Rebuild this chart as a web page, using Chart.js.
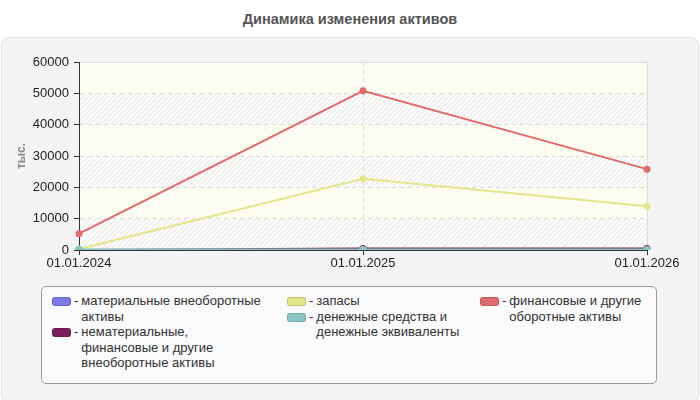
<!DOCTYPE html>
<html>
<head>
<meta charset="utf-8">
<script src="https://cdn.jsdelivr.net/npm/chart.js@4"></script>
<style>
  body { margin: 0; width: 700px; height: 400px; background: #fff; position: relative; overflow: hidden; font-family: Arial, "Liberation Sans", sans-serif; }
  #title { position: absolute; left: 0; top: 11px; width: 700px; text-align: center; font-weight: bold; font-size: 14.5px; color: #555; }
  #panel { position: absolute; left: 1px; top: 37px; width: 696px; height: 364px; background: #f4f4f4; border: 1px solid #e2e2e2; border-radius: 8px; }
  #chart { position: absolute; left: 0; top: 0; }
  #legend { position: absolute; left: 41px; top: 286px; width: 614px; height: 96px; background: #fafafa; border: 1px solid #9a9a9a; border-radius: 5px; font-family: Arial, "Liberation Sans", sans-serif; font-size: 13px; color: #333; }
  .col { position: absolute; top: 6px; }
  .item { display: flex; align-items: flex-start; line-height: 15.5px; }
  .sw { width: 17px; height: 7px; border-radius: 3px; margin-top: 4px; border: 1px solid rgba(0,0,0,0.15); flex: none; }
  .dash { margin: 0 3px 0 3px; flex: none; }
  .txt { width: 182px; }
</style>
</head>
<body>
<div id="title">Динамика изменения активов</div>
<div id="panel"></div>
<canvas id="chart" width="700" height="280"></canvas>
<div id="legend"></div>
<script>
// data
const dates = ['01.01.2024', '01.01.2025', '01.01.2026'];
const tangibleAssets = [0, 0, 0];
const intangibleAssets = [0, 450, 450];
const inventories = [300, 22700, 14000];
const cashAssets = [0, 0, 0];
const financialAssets = [5200, 50800, 25800];

const names = [
  'материальные внеоборотные активы',
  'нематериальные, финансовые и другие внеоборотные активы',
  'запасы',
  'денежные средства и денежные эквиваленты',
  'финансовые и другие оборотные активы'
];
const colors = ['#7b7be8', '#7a1f5a', '#e5e58a', '#88c6c6', '#e06b6b'];
const series = [tangibleAssets, intangibleAssets, inventories, cashAssets, financialAssets];
const drawOrder = [4, 3, 2, 0, 1];

// hatched band pattern
const pc = document.createElement('canvas');
pc.width = 5; pc.height = 5;
const p = pc.getContext('2d');
p.fillStyle = '#fbfbfa';
p.fillRect(0, 0, 5, 5);
p.strokeStyle = '#e4e4e4';
p.lineWidth = 1;
p.beginPath();
p.moveTo(0, 5); p.lineTo(5, 0);
p.moveTo(-1, 1); p.lineTo(1, -1);
p.moveTo(4, 6); p.lineTo(6, 4);
p.stroke();
const hatch = p.createPattern(pc, 'repeat');

const bandPlugin = {
  id: 'bands',
  beforeDraw(chart) {
    const { ctx, chartArea: a, scales: { y } } = chart;
    ctx.save();
    y.ticks.forEach((t, i) => {
      if (i === y.ticks.length - 1) return;
      const bot = y.getPixelForValue(t.value);
      const top = y.getPixelForValue(y.ticks[i + 1].value);
      ctx.fillStyle = i % 2 === 0 ? hatch : '#fcfcf1';
      ctx.fillRect(a.left, top, a.right - a.left, bot - top);
    });
    ctx.restore();
  }
};

const chart = new Chart(document.getElementById('chart'), {
  type: 'line',
  data: {
    labels: dates,
    datasets: series.map((d, i) => ({
      label: names[i],
      data: d,
      borderColor: colors[i],
      backgroundColor: colors[i],
      borderWidth: i === 3 ? 3 : 2,
      pointRadius: i === 3 ? 4 : 3.5,
      pointBorderWidth: 0,
      tension: 0,
      order: drawOrder[i]
    }))
  },
  options: {
    responsive: false,
    animation: false,
    layout: { padding: { top: 62, left: 0, right: 53, bottom: 0 } },
    plugins: { legend: { display: false }, tooltip: { enabled: false } },
    scales: {
      x: {
        offset: false,
        afterFit(s) { s.height = 30; },
        grid: { color: '#dcdcdc', tickColor: '#333', tickLength: 5 },
        border: { color: '#333', dash: c => c.index === dates.length - 1 ? [] : [4, 4] },
        ticks: { color: '#222', font: { size: 13, family: 'Arial' }, maxRotation: 0, padding: 1 }
      },
      y: {
        min: 0,
        max: 60000,
        afterFit(s) { s.width = 79; },
        grid: { color: '#dcdcdc', tickColor: '#333', tickLength: 5 },
        border: { color: '#333', dash: c => c.tick && c.tick.value === 60000 ? [] : [4, 4] },
        ticks: { stepSize: 10000, color: '#222', font: { size: 13, family: 'Arial' }, padding: 5, callback: v => String(v) },
        title: { display: true, text: 'тыс.', color: '#888', font: { size: 12, weight: 'bold', family: 'Arial' }, padding: { top: 14, bottom: 0 } }
      }
    }
  },
  plugins: [bandPlugin]
});

// legend built from the datasets, three columns
const legend = document.getElementById('legend');
const cols = [[0, 1], [2, 3], [4]];
const colX = [10, 245, 438];
cols.forEach((idx, c) => {
  const col = document.createElement('div');
  col.className = 'col';
  col.style.left = colX[c] + 'px';
  idx.forEach(i => {
    const ds = chart.data.datasets[i];
    const item = document.createElement('div');
    item.className = 'item';
    item.innerHTML = '<span class="sw" style="background:' + ds.backgroundColor + '"></span>' +
      '<span class="dash">-</span><span class="txt">' + ds.label + '</span>';
    col.appendChild(item);
  });
  legend.appendChild(col);
});
</script>
</body>
</html>
